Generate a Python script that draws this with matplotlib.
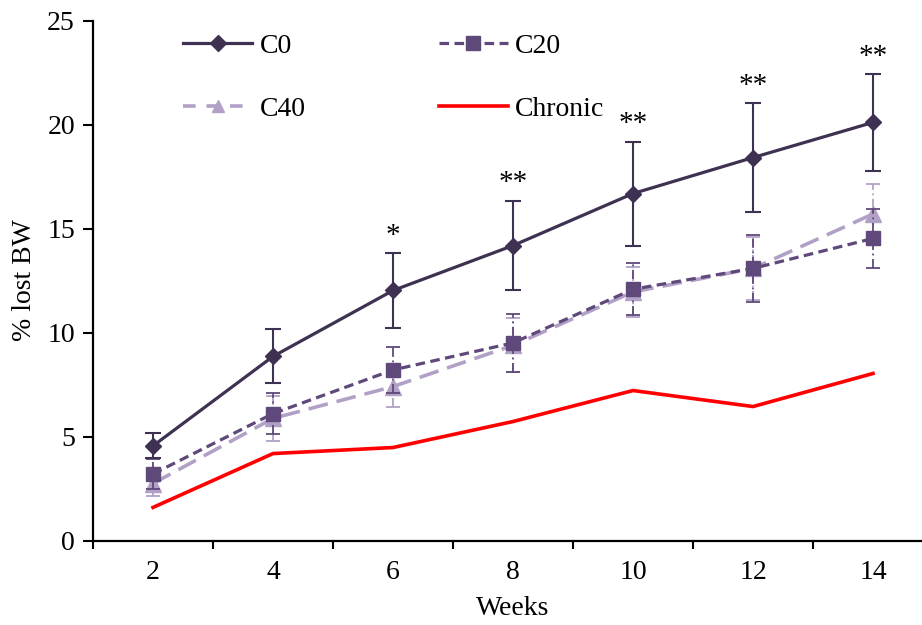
import matplotlib
matplotlib.use("Agg")
import matplotlib.pyplot as plt
from matplotlib.lines import Line2D
import numpy as np

weeks = [2, 4, 6, 8, 10, 12, 14]
c0 = [4.55, 8.85, 12.02, 14.18, 16.68, 18.41, 20.1]
c0_err = [0.6, 1.3, 1.78, 2.16, 2.5, 2.6, 2.33]
c20 = [3.2, 6.1, 8.2, 9.5, 12.08, 13.08, 14.52]
c20_err = [0.72, 1.0, 1.1, 1.38, 1.25, 1.6, 1.44]
c40 = [2.74, 5.87, 7.4, 9.38, 11.95, 13.08, 15.7]
c40_err = [0.6, 1.1, 1.0, 1.3, 1.2, 1.5, 1.46]
chronic = [1.59, 4.18, 4.47, 5.72, 7.21, 6.44, 8.03]
sig = ["", "", "*", "**", "**", "**", "**"]
yticks = [0, 5, 10, 15, 20, 25]

plt.rcParams['font.family'] = ['Liberation Serif', 'DejaVu Serif']

W, H = 922, 625
fig = plt.figure(figsize=(W / 100, H / 100), dpi=100)
ax = fig.add_axes([93 / W, (H - 540.5) / H, (933 - 93) / W, (540.5 - 20.5) / H])

col_c0 = '#3F3151'
col_c20 = '#5F497A'
col_c40 = '#B2A1C7'
col_chr = '#FF0000'
FS = 20

# C40
l40, c40caps, c40bars = ax.errorbar(weeks, c40, yerr=c40_err, color=col_c40, lw=2.6,
                                    marker='^', ms=11, capsize=5, elinewidth=1.3,
                                    capthick=1.3, zorder=3)
l40.set_dashes((5.5, 2.5))
for b in c40bars:
    b.set_linestyle((0, (5, 2, 1, 2)))

# C20
l20, c20caps, c20bars = ax.errorbar(weeks, c20, yerr=c20_err, color=col_c20, lw=2.3,
                                    marker='s', ms=10, capsize=5, elinewidth=1.3,
                                    capthick=1.3, zorder=4)
l20.set_dashes((3.0, 1.7))
for b in c20bars:
    b.set_linestyle((0, (5, 2, 1, 2)))

# C0
ax.errorbar(weeks, c0, yerr=c0_err, color=col_c0, lw=2.3, marker='D', ms=8.5,
            capsize=6, elinewidth=1.5, capthick=1.5, zorder=5)

# Chronic
ax.plot(weeks, chronic, color=col_chr, lw=2.6, zorder=6)

for x, m, e, s in zip(weeks, c0, c0_err, sig):
    if s:
        ax.text(x, m + e + 0.5, s, ha='center', va='baseline', fontsize=FS + 1, color='black')

ax.set_xlim(1, 15)
ax.set_ylim(0, 25)
ax.set_yticks(yticks)
ax.set_yticklabels([str(v) for v in yticks], fontsize=FS)
ax.set_xticks(np.arange(1, 16, 2))
ax.set_xticklabels([])
ax.set_xticks(weeks, minor=True)
ax.set_xticklabels([str(w) for w in weeks], minor=True, fontsize=FS)
ax.tick_params(axis='x', which='minor', length=0, pad=14)
ax.tick_params(axis='x', which='major', direction='out', length=6, width=1.5)
ax.tick_params(axis='y', direction='out', length=7, width=1.5, pad=6)
for sp in ['top', 'right']:
    ax.spines[sp].set_visible(False)
for sp in ['left', 'bottom']:
    ax.spines[sp].set_linewidth(1.6)

ax.set_xlabel('Weeks', fontsize=FS, labelpad=8)
ax.set_ylabel('% lost BW', fontsize=FS, labelpad=7)

h_c0 = Line2D([], [], color=col_c0, lw=2.3, marker='D', ms=8.5)
h_c20 = Line2D([], [], color=col_c20, lw=2.3, marker='s', ms=10, dashes=(3.0, 1.7))
h_c40 = Line2D([], [], color=col_c40, lw=2.6, marker='^', ms=9, dashes=(3.5, 3.0))
h_chr = Line2D([], [], color=col_chr, lw=2.6)
leg = ax.legend([h_c0, h_c40, h_c20, h_chr], ['C0', 'C40', 'C20', 'Chronic'], ncol=2,
                loc='upper left', bbox_to_anchor=(90 / 840, 0.975), frameon=False, fontsize=FS,
                handlelength=2.5, handletextpad=0.25, columnspacing=4.8,
                labelspacing=1.34, borderaxespad=0, borderpad=0)

fig.savefig('out.png', dpi=100)
